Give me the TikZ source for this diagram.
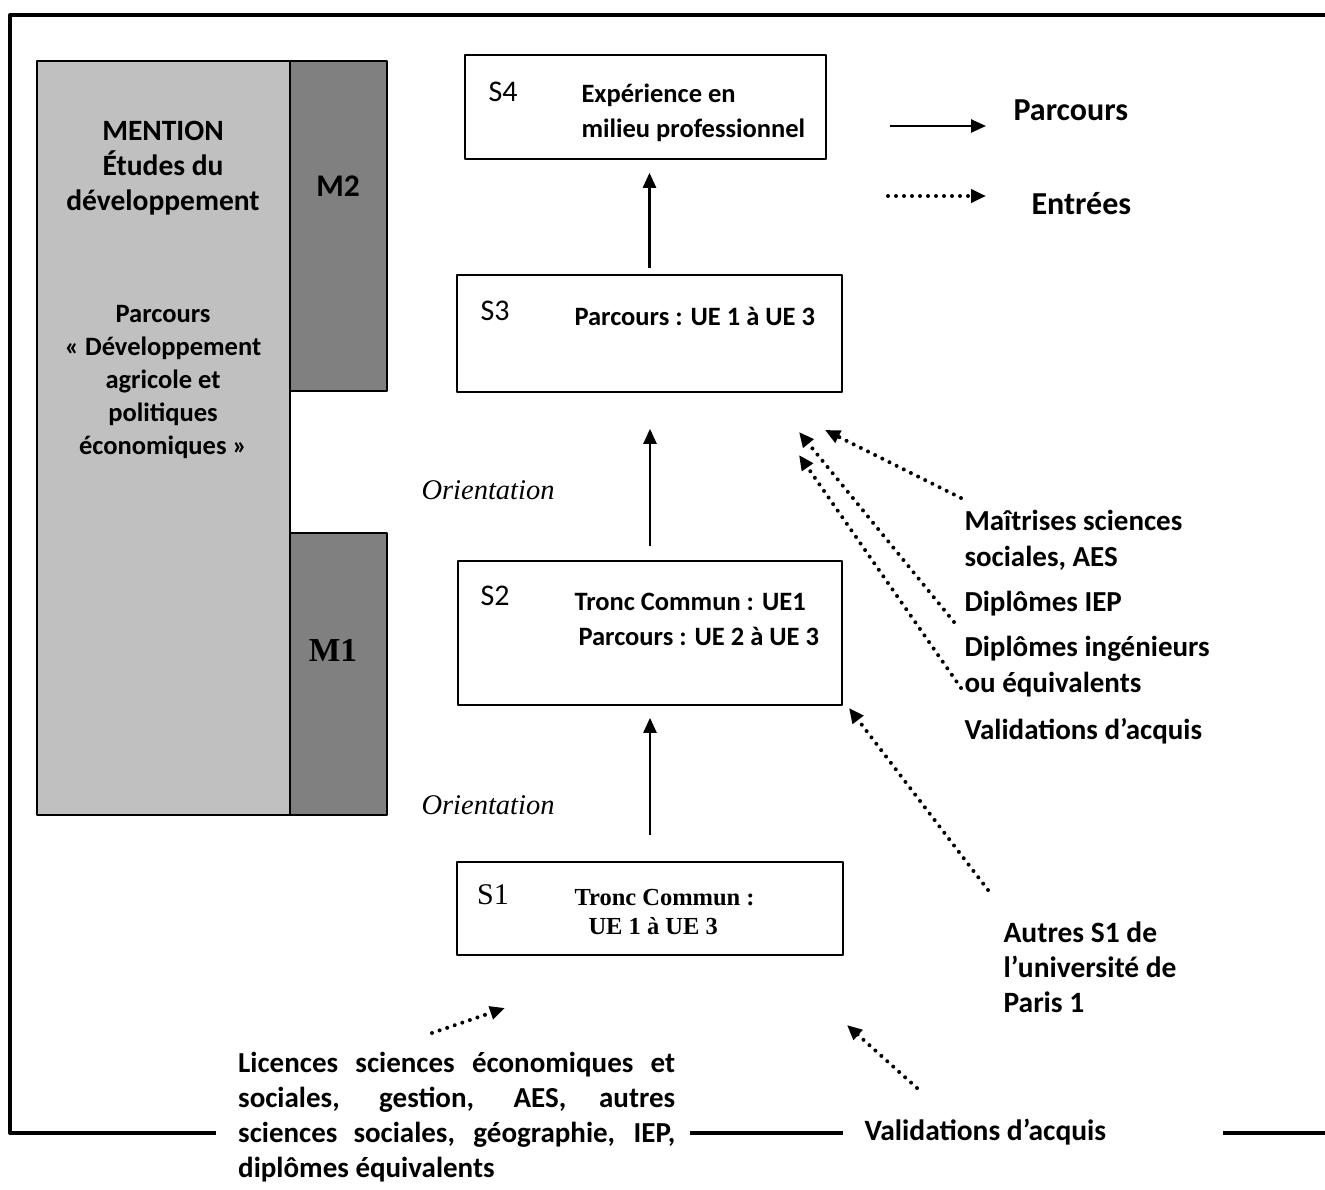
\documentclass[tikz,border=0pt]{standalone}
\usepackage{fontspec}
\setmainfont{Carlito}
\newfontfamily\tnr{Liberation Serif}
\usetikzlibrary{arrows.meta}
\usetikzlibrary{positioning}
\definecolor{lightgrey}{HTML}{C0C0C0}
\definecolor{darkgrey}{HTML}{808080}

\begin{document}
\begin{tikzpicture}[x=1pt,y=-1pt,line join=round,
  semester/.style={draw,line width=1.6pt,inner sep=0pt},
  block/.style={draw,line width=1.5pt,inner sep=0pt},
  semname/.style={font=\fontsize{30}{32}\selectfont},
  semtext/.style={anchor=west,align=left,font=\fontsize{26.5}{35}\selectfont\bfseries},
  entrytext/.style={anchor=west,align=left,font=\fontsize{29}{36}\selectfont\bfseries},
  flow/.style={line width=2.5pt,-{Triangle[length=15pt,width=13pt]}},
  entry/.style={line width=4pt,line cap=round,dash pattern=on 0pt off 8pt,
    -{Triangle[length=15pt,width=13pt]}},
  orient/.style={anchor=west,font=\tnr\itshape\fontsize{28.5}{30}\selectfont}]
\useasboundingbox (0,0) rectangle (1325,1189);
% outer frame
\draw[line width=4pt] (216,1133) -- (10,1133) -- (10,15) -- (1325,15);
\draw[line width=4pt] (690,1133) -- (843,1133);
\draw[line width=4pt] (1223,1133) -- (1325,1133);
% mention and master years
\node[block,fill=lightgrey,minimum width=253pt,minimum height=754pt] (mention) at (163.5,438) {};
\node[block,fill=darkgrey,minimum width=97pt,minimum height=330pt] (m2) at (338.5,226) {};
\node[block,fill=darkgrey,minimum width=97pt,minimum height=282pt] (m1) at (338.5,674) {};
\node[align=center,font=\fontsize{29.5}{35}\selectfont\bfseries] (mentiontitle) at (163,168)
  {MENTION\\Études du\\développement};
\node[align=center,font=\fontsize{26.5}{33}\selectfont\bfseries] (parcourstitle) at (163,382)
  {Parcours\\« Développement\\agricole et\\politiques\\économiques »};
\node[font=\fontsize{31.5}{33}\selectfont\bfseries] (m2name) at (338,186) {M2};
\node[font=\tnr\bfseries\fontsize{33.5}{35}\selectfont] (m1name) at (333,650) {M1};
% semesters
\node[semester,minimum width=361pt,minimum height=104pt] (s4) at (645.5,107) {};
\node[semester,minimum width=385pt,minimum height=117pt] (s3) at (649.5,333.5) {};
\node[semester,minimum width=384pt,minimum height=144pt] (s2) at (650,633) {};
\node[semester,minimum width=386pt,minimum height=93pt] (s1) at (650,908.5) {};
\node[semname] (s4name) at (503,92) {S4};
\node[semtext] (s4text) at (578,113) {Expérience en\\milieu professionnel};
\node[semname] (s3name) at (495,311) {S3};
\node[semtext] (s3text) at (571,316) {Parcours : UE 1 à UE 3};
\node[semname] (s2name) at (495,596) {S2};
\node[semtext] (s2text) at (571,619) {Tronc Commun : UE1\\\hspace*{4pt}Parcours : UE 2 à UE 3};
\node[semname,font=\tnr\fontsize{30}{32}\selectfont] (s1name) at (493,895) {S1};
\node[anchor=west,align=left,font=\tnr\bfseries\fontsize{24.5}{29}\selectfont] (s1text) at (571,912)
  {Tronc Commun :\\\hspace*{14pt}UE 1 à UE 3};
% parcours arrows
\draw[flow,shorten <=6pt,shorten >=13pt] (s3.north) -- (s3.north |- s4.south);
\draw[flow,shorten <=14pt,shorten >=36pt] (s2.north) -- (s2.north |- s3.south);
\draw[flow,shorten <=26pt,shorten >=12pt] (s1.north) -- (s1.north |- s2.south);
\node[orient] (orient2) at (418,490) {Orientation};
\node[orient] (orient1) at (418,805) {Orientation};
% legend
\coordinate (legflow) at (890,126);
\coordinate (legentry) at (888,196);
\node[anchor=west,font=\fontsize{32}{34}\selectfont\bfseries] (legparcours) at (1010,110) {Parcours};
\node[anchor=west,font=\fontsize{32}{34}\selectfont\bfseries] (legentrees) at (1028,204) {Entrées};
\draw[flow] (legflow) -- ++(96,0);
\draw[entry] (legentry) -- ++(98,0);
% entries to M2
\node[entrytext] (maitrises) at (961,540) {Maîtrises sciences\\sociales, AES};
\node[entrytext] (iep) at (961,604) {Diplômes IEP};
\node[entrytext] (ingenieurs) at (961,667) {Diplômes ingénieurs\\ou équivalents};
\node[entrytext] (vaem) at (961,731) {Validations d’acquis};
\coordinate (maitrisesend) at (961,498);
\coordinate (iepend) at (954,622);
\coordinate (ingenieursend) at (961,688);
\draw[entry] (maitrisesend) -- (825,430);
\draw[entry] (iepend) -- (799,432);
\draw[entry] (ingenieursend) -- (799,455);
% entries to M1
\node[entrytext,font=\fontsize{29.5}{35}\selectfont\bfseries] (autres) at (1000,967)
  {Autres S1 de\\l’université de\\Paris 1};
\coordinate (autresend) at (988,890);
\draw[entry] (autresend) -- (849,708);
\node[anchor=north west,text width=437pt,align=justify,inner sep=0pt,
  font=\fontsize{29}{35}\selectfont\bfseries] (licences) at (238,1052)
  {Licences sciences économiques et\linebreak sociales, gestion, AES, autres\linebreak
   sciences sociales, géographie, IEP,\linebreak diplômes équivalents};
\coordinate (licencesend) at (432,1033);
\draw[entry] (licencesend) -- (505,1008);
\node[entrytext,font=\fontsize{29.5}{35}\selectfont\bfseries] (vaeml) at (861,1132) {Validations d’acquis};
\coordinate (vaemlend) at (917,1088);
\draw[entry] (vaemlend) -- (847,1025);
\end{tikzpicture}
\end{document}
